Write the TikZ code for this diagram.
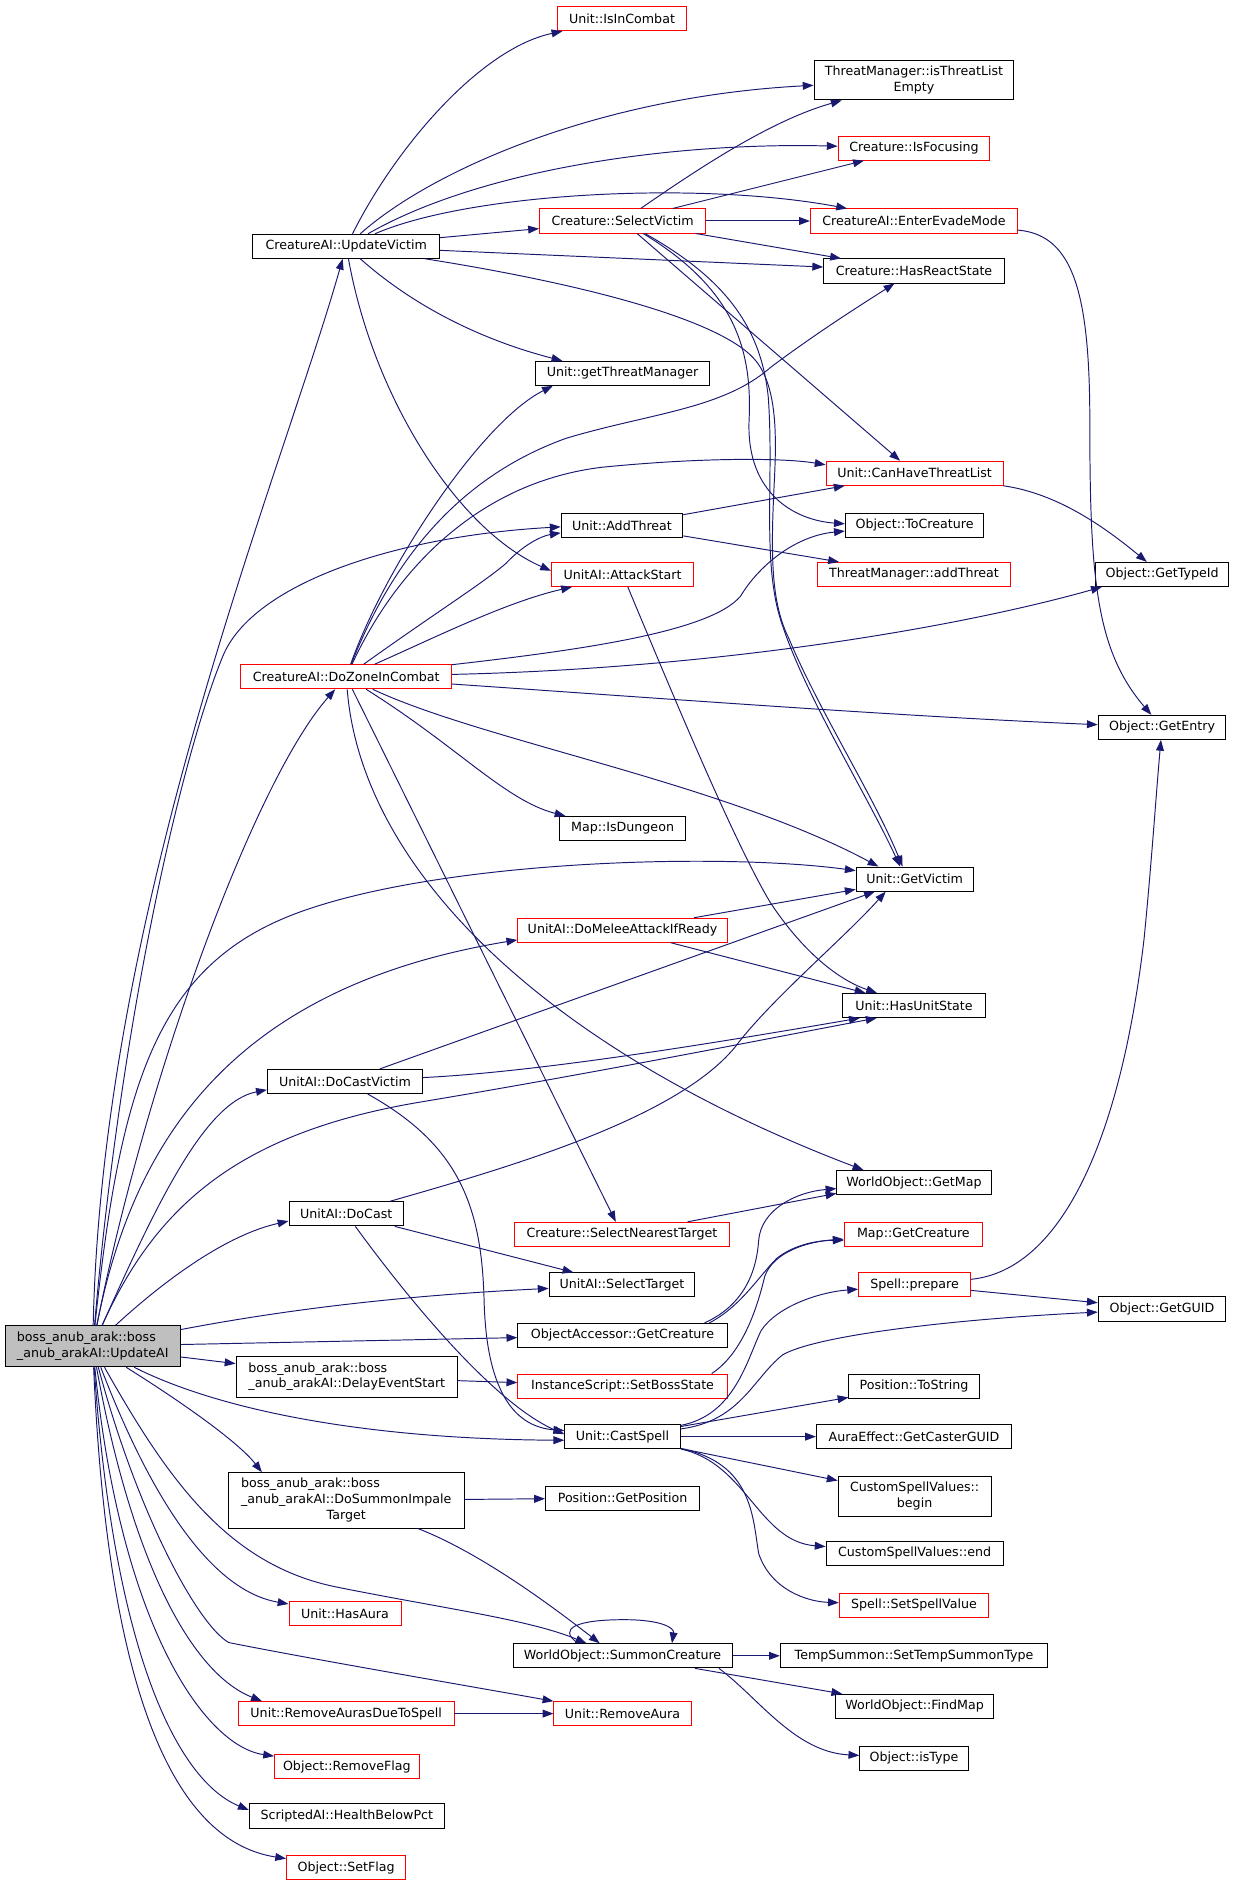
\documentclass[tikz,border=0pt]{standalone}
\usepackage{fontspec}
\setmainfont{DejaVu Sans}
\usetikzlibrary{arrows.meta}
\definecolor{edgec}{HTML}{191970}
\definecolor{rootfill}{HTML}{BFBFBF}
\definecolor{redb}{HTML}{FF0000}
\newcommand\twol[2]{\begin{tabular}{@{}l@{}}#1\\\multicolumn{1}{@{}c@{}}{#2}\end{tabular}}
\newcommand\threel[3]{\begin{tabular}{@{}l@{}}#1\\#2\\\multicolumn{1}{@{}c@{}}{#3}\end{tabular}}
\newcommand\nd[7]{\node[#1, minimum width=#5pt, minimum height=#6pt] (#2) at (#3,#4) {#7};}
\tikzset{
  box/.style={draw=black, fill=white, line width=0.8pt, inner sep=0pt, font=\fontsize{10.5}{13}\selectfont, align=center},
  rbox/.style={box, draw=redb},
  rootbox/.style={box, fill=rootfill},
  edg/.style={draw=edgec, line width=0.8pt, -{Triangle[length=9pt,width=6.5pt]}},
}
\begin{document}
\begin{tikzpicture}[x=1pt,y=-1pt]
\useasboundingbox (0,0) rectangle (1024,1567);
% nodes
\nd{rbox}{IC}{516.5}{15.5}{107}{20}{Unit::IsInCombat}
\nd{box}{TLE}{759}{66.5}{166}{33}{\twol{ThreatManager::isThreatList}{Empty}}
\nd{rbox}{IF}{759}{123}{126}{20}{Creature::IsFocusing}
\nd{rbox}{SV}{517}{183.5}{138}{20}{Creature::SelectVictim}
\nd{rbox}{EEM}{759}{183.5}{172}{20}{CreatureAI::EnterEvadeMode}
\nd{box}{UV}{287.5}{204.5}{155}{20}{CreatureAI::UpdateVictim}
\nd{box}{HRS}{759}{225}{150}{20}{Creature::HasReactState}
\nd{box}{GTM}{517}{310}{145}{20}{Unit::getThreatManager}
\nd{rbox}{CHTL}{759.5}{393}{147}{20}{Unit::CanHaveThreatList}
\nd{box}{AT}{516.5}{436.5}{101}{20}{Unit::AddThreat}
\nd{box}{TC}{759.5}{436}{115}{20}{Object::ToCreature}
\nd{rbox}{AS}{517}{477}{118}{20}{UnitAI::AttackStart}
\nd{rbox}{ATM}{759}{477}{160}{20}{ThreatManager::addThreat}
\nd{box}{GTI}{965}{477}{110}{20}{Object::GetTypeId}
\nd{rbox}{DZ}{287.5}{562}{175}{20}{CreatureAI::DoZoneInCombat}
\nd{box}{GE}{965}{604}{106}{20}{Object::GetEntry}
\nd{box}{ID}{517}{688}{104}{20}{Map::IsDungeon}
\nd{box}{GV}{759.5}{730}{97}{20}{Unit::GetVictim}
\nd{rbox}{DM}{517}{772.5}{174}{20}{UnitAI::DoMeleeAttackIfReady}
\nd{box}{HUS}{759}{835}{118}{20}{Unit::HasUnitState}
\nd{box}{DCV}{286.5}{898}{129}{20}{UnitAI::DoCastVictim}
\nd{box}{GM}{759}{982}{128}{20}{WorldObject::GetMap}
\nd{box}{DC}{287.5}{1008}{95}{20}{UnitAI::DoCast}
\nd{rbox}{SNT}{516.5}{1025}{179}{20}{Creature::SelectNearestTarget}
\nd{rbox}{MGC}{758.5}{1025}{115}{20}{Map::GetCreature}
\nd{box}{ST}{516.5}{1067}{121}{20}{UnitAI::SelectTarget}
\nd{rbox}{SP}{759.5}{1067}{93}{20}{Spell::prepare}
\nd{box}{GG}{965}{1087}{106}{20}{Object::GetGUID}
\nd{rootbox}{UA}{77}{1118}{145}{34}{\twol{boss\_anub\_arak::boss}{\_anub\_arakAI::UpdateAI}}
\nd{box}{OA}{517}{1109}{174}{20}{ObjectAccessor::GetCreature}
\nd{box}{DE}{288}{1143.5}{184}{34}{\twol{boss\_anub\_arak::boss}{\_anub\_arakAI::DelayEventStart}}
\nd{rbox}{SBS}{517}{1151}{174}{20}{InstanceScript::SetBossState}
\nd{box}{TS}{759}{1151}{108}{20}{Position::ToString}
\nd{box}{CS}{517}{1193}{96}{20}{Unit::CastSpell}
\nd{box}{ACG}{759}{1193}{162}{20}{AuraEffect::GetCasterGUID}
\nd{box}{CB}{759.5}{1242.5}{127}{33}{\twol{CustomSpellValues::}{begin}}
\nd{box}{DS}{287.5}{1246}{196}{46}{\threel{boss\_anub\_arak::boss}{\_anub\_arakAI::DoSummonImpale}{Target}}
\nd{box}{GP}{517}{1244}{128}{20}{Position::GetPosition}
\nd{box}{CE}{759.5}{1290}{147}{20}{CustomSpellValues::end}
\nd{rbox}{SSV}{759}{1333}{124}{20}{Spell::SetSpellValue}
\nd{rbox}{HA}{286.5}{1340}{93}{20}{Unit::HasAura}
\nd{box}{SC}{517}{1375}{182}{20}{WorldObject::SummonCreature}
\nd{box}{TST}{759}{1375}{222}{20}{TempSummon::SetTempSummonType}
\nd{box}{FM}{759.5}{1417}{131}{20}{WorldObject::FindMap}
\nd{rbox}{RADS}{287.5}{1423}{179}{20}{Unit::RemoveAurasDueToSpell}
\nd{rbox}{RA}{517}{1423}{114}{20}{Unit::RemoveAura}
\nd{box}{IT}{759}{1460}{90}{20}{Object::isType}
\nd{rbox}{RF}{288}{1467}{120}{20}{Object::RemoveFlag}
\nd{box}{HB}{288}{1508}{162}{20}{ScriptedAI::HealthBelowPct}
\nd{rbox}{SF}{287.5}{1551}{99}{20}{Object::SetFlag}
% edges from UpdateAI
\draw[edg] (UA) .. controls (85,750) and (235,390) .. (UV);
\draw[edg] (UA) .. controls (120,900) and (210,650) .. (DZ);
\draw[edg] (UA) .. controls (100,850) and (150,630) .. (185,545) .. controls (210,484) and (330,445) .. ([yshift=-1pt]AT.west);
\draw[edg] (UA) .. controls (100,900) and (130,800) .. (250,757) .. controls (370,714) and (600,708) .. ([yshift=7pt]GV.west);
\draw[edg] (UA) .. controls (110,950) and (190,820) .. ([yshift=-8pt]DM.west);
\draw[edg] (UA) .. controls (130,1000) and (170,915) .. ([yshift=-7pt]DCV.west);
\draw[edg] (UA) .. controls (130,1000) and (200,940) .. (350,915) .. controls (500,890) and (650,860) .. ([xshift=-31pt]HUS.south);
\draw[edg] (UA) .. controls (140,1060) and (190,1025) .. ([yshift=-6pt]DC.west);
\draw[edg] (UA) .. controls (250,1085) and (350,1075) .. (ST);
\draw[edg] (UA) -- (OA);
\draw[edg] (UA) -- (DE);
\draw[edg] (UA) .. controls (180,1170) and (300,1195) .. ([yshift=-3pt]CS.west);
\draw[edg] (UA) .. controls (160,1170) and (200,1200) .. ([xshift=-70pt]DS.north);
\draw[edg] (UA) .. controls (140,1230) and (190,1300) .. (280,1318) .. controls (370,1336) and (440,1345) .. ([xshift=-30pt]SC.north);
\draw[edg] (UA) .. controls (120,1230) and (170,1320) .. (HA);
\draw[edg] (UA) .. controls (115,1260) and (165,1350) .. (190,1364) .. controls (260,1378) and (400,1402) .. (RA);
\draw[edg] (UA) .. controls (110,1300) and (160,1390) .. ([xshift=-70pt]RADS.north);
\draw[edg] (UA) .. controls (100,1350) and (170,1450) .. (RF);
\draw[edg] (UA) .. controls (95,1380) and (150,1480) .. ([yshift=5pt]HB.west);
\draw[edg] (UA) .. controls (90,1420) and (150,1530) .. (SF);
% edges from UpdateVictim
\draw[edg] (UV) .. controls (330,120) and (400,40) .. (IC);
\draw[edg] (UV) .. controls (360,140) and (500,80) .. (TLE);
\draw[edg] (UV) .. controls (400,140) and (560,118) .. (IF);
\draw[edg] (UV) .. controls (390,160) and (580,150) .. (EEM);
\draw[edg] (UV) -- (SV);
\draw[edg] (UV) -- (HRS);
\draw[edg] (UV) .. controls (350,260) and (410,285) .. ([xshift=-50pt]GTM.north);
\draw[edg] (UV) .. controls (480,235) and (600,265) .. (628,300) .. controls (645,322) and (645,360) .. (643,400) .. controls (640,460) and (640,500) .. (655,530) .. controls (680,590) and (725,660) .. ([xshift=-10pt]GV.north);
\draw[edg] (UV) .. controls (310,330) and (380,440) .. ([yshift=3pt]AS.west);
% edges from SelectVictim
\draw[edg] (SV) .. controls (580,140) and (640,100) .. (TLE);
\draw[edg] (SV) -- (IF);
\draw[edg] (SV) -- (EEM);
\draw[edg] (SV) -- (HRS);
\draw[edg] (SV) -- (CHTL);
\draw[edg] (SV) .. controls (610,240) and (625,290) .. (622,350) .. controls (620,410) and (660,432) .. ([yshift=1pt]TC.west);
\draw[edg] (SV) .. controls (600,230) and (632,270) .. (638,330) .. controls (643,400) and (632,470) .. (650,520) .. controls (670,580) and (720,660) .. ([xshift=-12pt]GV.north);
\draw[edg] (EEM) .. controls (890,195) and (905,240) .. (905,350) .. controls (905,480) and (910,540) .. (GE);
% edges from DoZoneInCombat
\draw[edg] (DZ) .. controls (320,470) and (400,350) .. ([xshift=15pt]GTM.south west);
\draw[edg] (DZ) .. controls (320,480) and (370,400) .. (470,364) .. controls (540,343) and (600,340) .. (640,305) .. controls (680,275) and (720,250) .. (HRS);
\draw[edg] (DZ) .. controls (330,470) and (400,400) .. (500,388) .. controls (580,380) and (650,380) .. ([yshift=7pt]CHTL.west);
\draw[edg] (DZ) .. controls (360,510) and (400,485) .. (420,468) .. controls (435,452) and (450,445) .. ([yshift=-6pt]AT.west);
\draw[edg] (DZ) .. controls (360,530) and (420,500) .. ([xshift=-42pt]AS.south);
\draw[edg] (DZ) .. controls (480,540) and (590,525) .. (615,495) .. controls (630,470) and (660,445) .. ([yshift=-5pt]TC.west);
\draw[edg] (DZ) .. controls (600,555) and (800,520) .. ([xshift=-50pt]GTI.south);
\draw[edg] (DZ) .. controls (550,580) and (750,595) .. (GE);
\draw[edg] (DZ) .. controls (380,620) and (420,665) .. ([xshift=5pt]ID.north west);
\draw[edg] (DZ) .. controls (400,615) and (600,650) .. ([xshift=-30pt]GV.north);
\draw[edg] (DZ) -- (SNT);
\draw[edg] (DZ) .. controls (300,720) and (450,870) .. ([xshift=-42pt]GM.north);
% middle edges
\draw[edg] (AT) -- (CHTL);
\draw[edg] (AT) -- (ATM);
\draw[edg] (AS) .. controls (560,580) and (610,700) .. (640,750) .. controls (670,795) and (700,815) .. (HUS);
\draw[edg] (CHTL) .. controls (880,410) and (920,440) .. (GTI);
\draw[edg] (DM) -- (GV);
\draw[edg] (DM) -- (HUS);
\draw[edg] (DCV) -- ([xshift=-33pt]GV.south);
\draw[edg] (DCV) .. controls (450,890) and (600,865) .. ([xshift=-45pt]HUS.south);
\draw[edg] (DCV) .. controls (380,950) and (400,1000) .. (402,1080) .. controls (404,1160) and (430,1185) .. ([yshift=5pt]CS.west);
\draw[edg] (DC) .. controls (420,970) and (560,930) .. (610,870) .. controls (640,830) and (700,780) .. ([xshift=-24pt]GV.south);
\draw[edg] (DC) -- (ST);
\draw[edg] (DC) .. controls (340,1080) and (410,1165) .. ([yshift=2pt]CS.west);
\draw[edg] (SNT) -- ([yshift=-9pt]GM.west);
\draw[edg] ([xshift=68pt]OA.north) .. controls (615,1085) and (628,1060) .. (630,1030) .. controls (632,1005) and (660,990) .. ([yshift=-5pt]GM.west);
\draw[edg] ([xshift=72pt]OA.north) .. controls (615,1085) and (630,1060) .. (645,1045) .. controls (660,1033) and (680,1030) .. ([yshift=-5pt]MGC.west);
\draw[edg] ([xshift=74pt]SBS.north) .. controls (615,1125) and (628,1090) .. (635,1060) .. controls (642,1040) and (670,1031) .. ([yshift=-4pt]MGC.west);
\draw[edg] (DE) -- (SBS);
\draw[edg] (SP) .. controls (880,1055) and (930,950) .. (950,780) .. controls (956,720) and (960,660) .. (GE);
\draw[edg] (SP) -- (GG);
% edges from CastSpell
\draw[edg] (CS) .. controls (610,1175) and (620,1130) .. (632,1105) .. controls (645,1085) and (680,1073) .. (SP);
\draw[edg] (CS) .. controls (615,1180) and (625,1145) .. (650,1125) .. controls (680,1108) and (800,1095) .. (GG);
\draw[edg] (CS) -- (TS);
\draw[edg] (CS) -- (ACG);
\draw[edg] (CS) -- (CB);
\draw[edg] (CS) .. controls (620,1215) and (630,1280) .. (CE);
\draw[edg] (CS) .. controls (625,1215) and (625,1260) .. (630,1290) .. controls (640,1320) and (670,1330) .. (SSV);
% bottom edges
\draw[edg] (DS) -- (GP);
\draw[edg] (DS) .. controls (400,1290) and (460,1335) .. ([xshift=-19pt]SC.north);
\draw[edg] ([xshift=-37pt]SC.north) .. controls (462,1352) and (480,1345) .. (518,1345) .. controls (550,1345) and (560,1352) .. ([xshift=41pt]SC.north);
\draw[edg] (SC) -- (TST);
\draw[edg] (SC) -- (FM);
\draw[edg] ([xshift=80pt]SC.south) .. controls (630,1410) and (660,1455) .. (IT);
\draw[edg] (RADS) -- (RA);
\end{tikzpicture}
\end{document}
